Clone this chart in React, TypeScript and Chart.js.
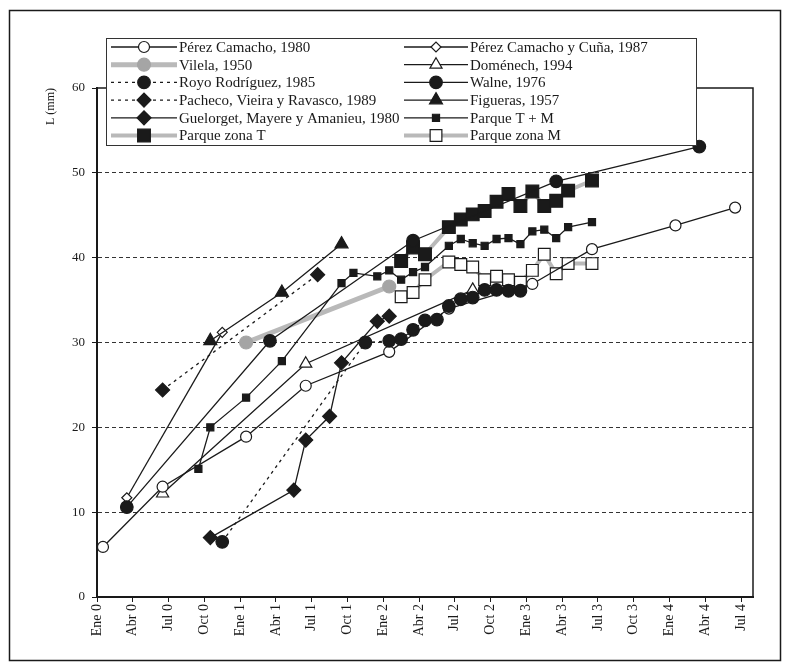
import React, { useEffect, useRef } from 'react';
import { Chart, registerables } from 'chart.js';

Chart.register(...registerables);

// ---- axis labels ----
const quarterLabels = [
  'Ene 0', 'Abr 0', 'Jul 0', 'Oct 0',
  'Ene 1', 'Abr 1', 'Jul 1', 'Oct 1',
  'Ene 2', 'Abr 2', 'Jul 2', 'Oct 2',
  'Ene 3', 'Abr 3', 'Jul 3', 'Oct 3',
  'Ene 4', 'Abr 4', 'Jul 4',
];
const yTicks = [0, 10, 20, 30, 40, 50, 60];
const yTitle = 'L (mm)';

// ---- series: [months since Ene 0, length (mm)] ----
const perezCamacho1980 = [[0.5, 5.9], [5.5, 13.0], [12.5, 18.9], [17.5, 24.9], [24.5, 28.9], [29.5, 34.0], [36.5, 36.9], [41.5, 41.0], [48.5, 43.8], [53.5, 45.9]];
const perezCamachoCuna1987 = [[2.5, 11.7], [10.5, 31.2]];
const vilela1950 = [[12.5, 30.0], [24.5, 36.6]];
const domenech1994 = [[5.5, 12.2], [17.5, 27.5], [31.5, 36.2]];
const royoRodriguez1985 = [[10.5, 6.5], [22.5, 30.0], [24.5, 30.2], [25.5, 30.4], [26.5, 31.5], [27.5, 32.6], [28.5, 32.7], [29.5, 34.3], [30.5, 35.1], [31.5, 35.3], [32.5, 36.2], [33.5, 36.2], [34.5, 36.1], [35.5, 36.1]];
const walne1976 = [[2.5, 10.6], [14.5, 30.2], [26.5, 42.0], [38.5, 49.0], [50.5, 53.1]];
const pachecoVieiraRavasco1989 = [[5.5, 24.4], [18.5, 38.0]];
const figueras1957 = [[9.5, 30.2], [15.5, 35.9], [20.5, 41.6]];
const guelorgetMayereAmanieu1980 = [[9.5, 7.0], [16.5, 12.6], [17.5, 18.5], [19.5, 21.3], [20.5, 27.6], [23.5, 32.5], [24.5, 33.1]];
const parqueTM = [[8.5, 15.1], [9.5, 20.0], [12.5, 23.5], [15.5, 27.8], [20.5, 37.0], [21.5, 38.2], [23.5, 37.8], [24.5, 38.5], [25.5, 37.4], [26.5, 38.3], [27.5, 38.9], [29.5, 41.4], [30.5, 42.2], [31.5, 41.7], [32.5, 41.4], [33.5, 42.2], [34.5, 42.3], [35.5, 41.6], [36.5, 43.1], [37.5, 43.3], [38.5, 42.3], [39.5, 43.6], [41.5, 44.2]];
const parqueZonaT = [[25.5, 39.6], [26.5, 41.2], [27.5, 40.4], [29.5, 43.6], [30.5, 44.5], [31.5, 45.1], [32.5, 45.5], [33.5, 46.6], [34.5, 47.5], [35.5, 46.1], [36.5, 47.8], [37.5, 46.1], [38.5, 46.7], [39.5, 47.9], [41.5, 49.1]];
const parqueZonaM = [[25.5, 35.4], [26.5, 35.9], [27.5, 37.4], [29.5, 39.5], [30.5, 39.2], [31.5, 38.9], [32.5, 37.4], [33.5, 37.8], [34.5, 37.4], [35.5, 37.1], [36.5, 38.5], [37.5, 40.4], [38.5, 38.1], [39.5, 39.3], [41.5, 39.3]];

const seriesLabels = [
  'Pérez Camacho, 1980', 'Pérez Camacho y Cuña, 1987',
  'Vilela, 1950', 'Doménech, 1994',
  'Royo Rodríguez, 1985', 'Walne, 1976',
  'Pacheco, Vieira y Ravasco, 1989', 'Figueras, 1957',
  'Guelorget, Mayere y Amanieu, 1980', 'Parque T + M',
  'Parque zona T', 'Parque zona M',
];
const seriesData = [
  perezCamacho1980, perezCamachoCuna1987,
  vilela1950, domenech1994,
  royoRodriguez1985, walne1976,
  pachecoVieiraRavasco1989, figueras1957,
  guelorgetMayereAmanieu1980, parqueTM,
  parqueZonaT, parqueZonaM,
];

// ---- styles ----
const INK = '#1a1a1a';
const GREY_LINE = '#b9b9b9';
const GREY_MARK = '#a5a5a5';
const FONT = '"Liberation Serif", "Times New Roman", serif';

type Style = {
  line: string; width: number; dash: number[];
  point: string; r: number; fill: string; stroke: string; order: number;
};
const styles: Style[] = [
  { line: INK, width: 1.3, dash: [], point: 'circle', r: 5.5, fill: '#fff', stroke: INK, order: 3 },
  { line: INK, width: 1.3, dash: [], point: 'rectRot', r: 5, fill: '#fff', stroke: INK, order: 3 },
  { line: GREY_LINE, width: 5, dash: [], point: 'circle', r: 6.5, fill: GREY_MARK, stroke: GREY_MARK, order: 10 },
  { line: INK, width: 1.3, dash: [], point: 'triangle', r: 7, fill: '#fff', stroke: INK, order: 3 },
  { line: INK, width: 1.3, dash: [3, 4], point: 'circle', r: 6.3, fill: INK, stroke: INK, order: 1 },
  { line: INK, width: 1.3, dash: [], point: 'circle', r: 6.3, fill: INK, stroke: INK, order: 1 },
  { line: INK, width: 1.3, dash: [3, 4], point: 'rectRot', r: 7, fill: INK, stroke: INK, order: 2 },
  { line: INK, width: 1.3, dash: [], point: 'triangle', r: 7.5, fill: INK, stroke: INK, order: 2 },
  { line: INK, width: 1.3, dash: [], point: 'rectRot', r: 7, fill: INK, stroke: INK, order: 2 },
  { line: INK, width: 1.3, dash: [], point: 'rect', r: 5, fill: INK, stroke: INK, order: 4 },
  { line: GREY_LINE, width: 4, dash: [], point: 'rect', r: 9, fill: INK, stroke: INK, order: 8 },
  { line: GREY_LINE, width: 4, dash: [], point: 'rect', r: 8.3, fill: '#fff', stroke: INK, order: 6 },
];

function drawMarker(ctx: CanvasRenderingContext2D, s: Style, x: number, y: number) {
  const r = s.r;
  ctx.beginPath();
  if (s.point === 'circle') {
    ctx.arc(x, y, r, 0, Math.PI * 2);
  } else if (s.point === 'rect') {
    const h = r * Math.SQRT1_2;
    ctx.rect(x - h, y - h, 2 * h, 2 * h);
  } else if (s.point === 'rectRot') {
    ctx.moveTo(x - r, y); ctx.lineTo(x, y - r); ctx.lineTo(x + r, y); ctx.lineTo(x, y + r);
    ctx.closePath();
  } else if (s.point === 'triangle') {
    ctx.moveTo(x, y - r);
    ctx.lineTo(x + r * 0.866, y + r * 0.5);
    ctx.lineTo(x - r * 0.866, y + r * 0.5);
    ctx.closePath();
  }
  ctx.fillStyle = s.fill;
  ctx.fill();
  ctx.lineWidth = 1.2;
  ctx.strokeStyle = s.stroke;
  ctx.stroke();
}

const framePlugin = {
  id: 'frames',
  beforeDraw(chart: any) {
    const { ctx, width, height } = chart;
    ctx.save();
    ctx.fillStyle = '#fff';
    ctx.fillRect(0, 0, width, height);
    ctx.strokeStyle = INK;
    ctx.lineWidth = 1.5;
    ctx.strokeRect(9.5, 10.5, 771, 650);
    ctx.restore();
  },
  afterDatasetsDraw(chart: any) {
    const { ctx, chartArea: a } = chart;
    ctx.save();
    ctx.strokeStyle = INK;
    ctx.lineWidth = 1.5;
    ctx.strokeRect(a.left, a.top, a.right - a.left, a.bottom - a.top);
    ctx.restore();
  },
  afterDraw(chart: any) {
    const ctx: CanvasRenderingContext2D = chart.ctx;
    ctx.save();
    ctx.fillStyle = '#fff';
    ctx.fillRect(106, 38, 591, 108);
    ctx.strokeStyle = '#333';
    ctx.lineWidth = 1;
    ctx.strokeRect(106.5, 38.5, 590, 107);
    seriesLabels.forEach((label, i) => {
      const s = styles[i];
      const col = i % 2;
      const row = Math.floor(i / 2);
      const y = 47 + row * 17.7;
      const x0 = col ? 404 : 111;
      const x1 = col ? 468 : 177;
      ctx.beginPath();
      ctx.setLineDash(s.dash);
      ctx.strokeStyle = s.line;
      ctx.lineWidth = s.width;
      ctx.moveTo(x0, y);
      ctx.lineTo(x1, y);
      ctx.stroke();
      ctx.setLineDash([]);
      drawMarker(ctx, s, (x0 + x1) / 2, y);
      ctx.fillStyle = INK;
      ctx.font = `15px ${FONT}`;
      ctx.textAlign = 'left';
      ctx.textBaseline = 'middle';
      ctx.fillText(label, x1 + 2, y + 1);
    });
    ctx.restore();
  },
};

export default function App() {
  const ref = useRef<HTMLCanvasElement>(null);

  useEffect(() => {
    if (!ref.current) return;
    Chart.defaults.font.family = FONT;
    Chart.defaults.color = INK;

    const datasets = seriesData.map((pts, i) => {
      const s = styles[i];
      return {
        label: seriesLabels[i],
        data: pts.map(([x, y]) => ({ x, y })),
        showLine: true,
        borderColor: s.line,
        borderWidth: s.width,
        borderDash: s.dash,
        tension: 0,
        fill: false,
        pointStyle: s.point,
        pointRadius: s.r,
        pointHoverRadius: s.r,
        pointBackgroundColor: s.fill,
        pointBorderColor: s.stroke,
        pointBorderWidth: 1.2,
        order: s.order,
      };
    });

    const chart = new Chart(ref.current, {
      type: 'scatter',
      data: { datasets: datasets as any },
      plugins: [framePlugin],
      options: {
        animation: false,
        responsive: true,
        maintainAspectRatio: false,
        events: [],
        layout: { padding: { left: 40, top: 88, right: 37, bottom: 0 } },
        plugins: { legend: { display: false }, tooltip: { enabled: false } },
        scales: {
          x: {
            type: 'linear',
            min: 0,
            max: 55,
            afterBuildTicks: (sc: any) => { sc.ticks = quarterLabels.map((_, i) => ({ value: i * 3 })); },
            afterFit: (sc: any) => { sc.height = 72; },
            ticks: {
              autoSkip: false,
              minRotation: 90,
              maxRotation: 90,
              padding: 2,
              color: INK,
              font: { size: 14, family: FONT },
              callback: (_v: any, idx: number) => quarterLabels[idx],
            },
            grid: { drawOnChartArea: false, drawTicks: true, tickLength: 5, tickColor: INK, tickWidth: 1 },
            border: { display: true, color: INK, width: 2 },
          },
          y: {
            type: 'linear',
            min: 0,
            max: 60,
            afterBuildTicks: (sc: any) => { sc.ticks = yTicks.map((v) => ({ value: v })); },
            afterFit: (sc: any) => { sc.width = 57; },
            ticks: { padding: 7, color: INK, font: { size: 13, family: FONT } },
            grid: {
              color: (c: any) => (c.tick && (c.tick.value === 0 || c.tick.value === 60) ? 'rgba(0,0,0,0)' : '#333'),
              lineWidth: 1,
              drawTicks: true,
              tickLength: 5,
              tickColor: INK,
            },
            border: { display: true, color: INK, width: 2, dash: [4, 3] },
            title: {
              display: true,
              text: yTitle,
              align: 'end',
              color: INK,
              font: { size: 12, family: FONT },
              padding: { top: 4, bottom: 4 },
            },
          },
        },
      } as any,
    });
    return () => chart.destroy();
  }, []);

  return (
    <div style={{ position: 'absolute', left: 0, top: 0, width: 790, height: 669, background: '#fff' }}>
      <canvas ref={ref} />
    </div>
  );
}
